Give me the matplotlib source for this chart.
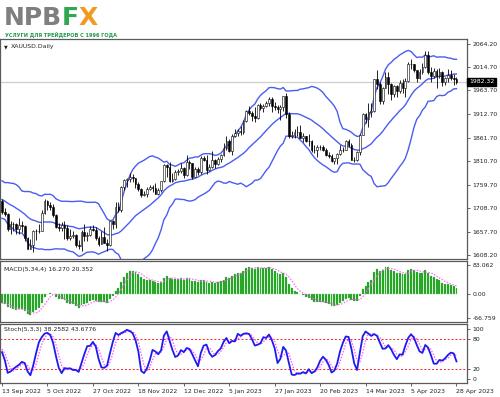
import numpy as np
import pandas as pd
import matplotlib
matplotlib.use("Agg")
import matplotlib.pyplot as plt
import matplotlib.transforms as mtransforms

plt.rcParams['font.family'] = ['DejaVu Sans']

# --- price data, XAUUSD daily, 13 Sep 2022 .. 28 Apr 2023 ---
opens = [1725, 1702, 1697, 1665, 1675, 1675, 1664, 1673, 1671, 1644, 1622, 1629, 1660, 1660,
         1661, 1699, 1725, 1716, 1712, 1695, 1668, 1666, 1673, 1666, 1644, 1650, 1652, 1629,
         1627, 1657, 1649, 1652, 1665, 1663, 1644, 1633, 1647, 1635, 1629, 1681, 1676, 1712,
         1706, 1755, 1771, 1772, 1777, 1774, 1761, 1751, 1738, 1741, 1750, 1755, 1754, 1741,
         1749, 1768, 1803, 1798, 1769, 1772, 1787, 1789, 1797, 1781, 1810, 1807, 1777, 1793,
         1788, 1817, 1814, 1792, 1798, 1814, 1805, 1815, 1824, 1839, 1855, 1833, 1865, 1872,
         1877, 1875, 1897, 1920, 1916, 1908, 1904, 1932, 1926, 1931, 1936, 1946, 1930, 1928,
         1923, 1928, 1951, 1912, 1865, 1867, 1873, 1874, 1861, 1865, 1854, 1854, 1836, 1836,
         1842, 1841, 1835, 1825, 1822, 1811, 1817, 1826, 1836, 1836, 1855, 1846, 1813, 1814,
         1830, 1868, 1913, 1903, 1918, 1919, 1989, 1978, 1940, 1970, 1993, 1977, 1956, 1973,
         1963, 1980, 1969, 1985, 2020, 2021, 2007, 1990, 2003, 2015, 2040, 2004, 1995, 2006,
         1995, 2004, 1983, 1990, 1998, 1990, 1989]
highs = [1729, 1709, 1699, 1682, 1680, 1677, 1688, 1681, 1674, 1646, 1642, 1663, 1665, 1676,
         1705, 1729, 1727, 1722, 1718, 1697, 1678, 1680, 1681, 1672, 1664, 1660, 1654, 1641,
         1662, 1675, 1658, 1670, 1674, 1668, 1650, 1659, 1669, 1642, 1682, 1684, 1722, 1722,
         1757, 1772, 1775, 1786, 1783, 1775, 1767, 1754, 1747, 1755, 1759, 1760, 1764, 1754,
         1769, 1804, 1804, 1810, 1785, 1791, 1793, 1807, 1798, 1824, 1813, 1807, 1799, 1799,
         1822, 1823, 1824, 1804, 1833, 1816, 1821, 1827, 1850, 1865, 1858, 1869, 1881, 1881,
         1886, 1901, 1922, 1930, 1920, 1928, 1935, 1937, 1935, 1942, 1949, 1949, 1938, 1932,
         1932, 1952, 1959, 1918, 1877, 1881, 1886, 1890, 1871, 1866, 1869, 1856, 1845, 1846,
         1846, 1846, 1840, 1831, 1827, 1818, 1828, 1845, 1842, 1857, 1858, 1850, 1820, 1834,
         1870, 1914, 1914, 1937, 1937, 1989, 2009, 1983, 1972, 2003, 2004, 1979, 1975, 1975,
         1986, 1988, 1990, 2025, 2032, 2022, 2009, 2010, 2023, 2048, 2048, 2015, 2013, 2010,
         2012, 2006, 1993, 2010, 2009, 2000, 1993]
lows = [1697, 1693, 1660, 1654, 1660, 1654, 1654, 1657, 1639, 1621, 1621, 1614, 1641, 1656,
        1659, 1697, 1705, 1706, 1691, 1666, 1659, 1661, 1642, 1641, 1640, 1645, 1626, 1621,
        1617, 1639, 1638, 1650, 1659, 1640, 1628, 1632, 1634, 1616, 1628, 1664, 1667, 1701,
        1701, 1749, 1756, 1765, 1766, 1754, 1747, 1733, 1735, 1734, 1748, 1745, 1739, 1738,
        1745, 1766, 1777, 1765, 1767, 1770, 1780, 1786, 1775, 1778, 1795, 1773, 1776, 1782,
        1784, 1811, 1784, 1790, 1796, 1796, 1802, 1810, 1822, 1836, 1830, 1825, 1864, 1866,
        1867, 1870, 1896, 1911, 1897, 1896, 1902, 1922, 1917, 1929, 1931, 1918, 1922, 1916,
        1900, 1920, 1904, 1861, 1860, 1861, 1866, 1860, 1853, 1852, 1844, 1831, 1829, 1819,
        1836, 1832, 1822, 1818, 1809, 1805, 1805, 1825, 1830, 1835, 1842, 1813, 1809, 1812,
        1824, 1867, 1893, 1885, 1906, 1918, 1968, 1934, 1935, 1969, 1957, 1944, 1949, 1950,
        1959, 1959, 1950, 1982, 2010, 2003, 1981, 1988, 1999, 2012, 2000, 1981, 1991, 1969,
        1990, 1974, 1975, 1982, 1986, 1975, 1977]
closes = [1702, 1697, 1665, 1675, 1675, 1664, 1673, 1671, 1644, 1622, 1629, 1660, 1660, 1661,
          1699, 1725, 1716, 1712, 1695, 1668, 1666, 1673, 1666, 1644, 1650, 1652, 1629, 1627,
          1657, 1649, 1652, 1665, 1663, 1644, 1633, 1647, 1635, 1629, 1681, 1676, 1712, 1706,
          1755, 1771, 1772, 1777, 1774, 1761, 1751, 1738, 1741, 1750, 1755, 1754, 1741, 1749,
          1768, 1803, 1798, 1769, 1772, 1787, 1789, 1797, 1781, 1810, 1807, 1777, 1793, 1788,
          1817, 1814, 1792, 1798, 1814, 1805, 1815, 1824, 1839, 1855, 1833, 1865, 1872, 1877,
          1875, 1897, 1920, 1916, 1908, 1904, 1932, 1926, 1931, 1936, 1946, 1930, 1928, 1923,
          1928, 1951, 1912, 1865, 1867, 1873, 1874, 1861, 1865, 1854, 1854, 1836, 1836, 1842,
          1841, 1835, 1825, 1822, 1811, 1817, 1826, 1836, 1836, 1855, 1846, 1813, 1814, 1830,
          1868, 1913, 1903, 1918, 1919, 1989, 1978, 1940, 1970, 1993, 1977, 1956, 1973, 1963,
          1980, 1969, 1985, 2020, 2021, 2007, 1990, 2003, 2015, 2040, 2004, 1995, 2006, 1995,
          2004, 1983, 1990, 1998, 1990, 1989, 1982.32]

# earlier history (Jul - 12 Sep 2022), only needed for the indicators
warm_close = [1811, 1764, 1739, 1740, 1742, 1733, 1725, 1735, 1710, 1703, 1709, 1711, 1696,
              1719, 1727, 1719, 1717, 1735, 1756, 1766, 1772, 1760, 1765, 1791, 1775, 1789,
              1794, 1792, 1789, 1802, 1779, 1776, 1761, 1758, 1747, 1736, 1748, 1751, 1758,
              1737, 1738, 1723, 1711, 1697, 1712, 1710, 1702, 1718, 1709, 1717, 1725]
warm_high = [1765, 1740, 1741, 1728, 1712, 1722, 1719, 1717, 1721, 1729, 1735, 1735]
warm_low = [1734, 1719, 1720, 1708, 1688, 1695, 1706, 1697, 1691, 1707, 1713, 1710]

date_labels = ['13 Sep 2022', '5 Oct 2022', '27 Oct 2022', '18 Nov 2022', '12 Dec 2022',
               '5 Jan 2023', '27 Jan 2023', '20 Feb 2023', '14 Mar 2023', '5 Apr 2023',
               '28 Apr 2023']
date_pos = [0, 16, 32, 48, 64, 80, 96, 112, 128, 144, 160]

price_ticks = [2064.20, 2014.70, 1963.70, 1912.70, 1861.70, 1810.70, 1759.70, 1708.70,
               1657.70, 1608.20]
last_price = 1982.32

n = len(closes)
nw = len(warm_close)
x = np.arange(n)

# indicators
c_all = pd.Series(warm_close + closes, dtype=float)
mid = c_all.rolling(20).mean()
sd = c_all.rolling(20).std(ddof=0)
bb_mid = mid.values[nw:]
bb_up = (mid + 2 * sd).values[nw:]
bb_lo = (mid - 2 * sd).values[nw:]

ema5 = c_all.ewm(span=5, adjust=False).mean()
ema34 = c_all.ewm(span=34, adjust=False).mean()
macd = ema5 - ema34
sig = macd.rolling(4).mean()
macd_v = macd.values[nw:]
sig_v = sig.values[nw:]

k_n = len(warm_high)
hs = pd.Series(warm_high + highs, dtype=float)
ls = pd.Series(warm_low + lows, dtype=float)
cs = pd.Series(warm_close[-k_n:] + closes, dtype=float)
ll = ls.rolling(5).min()
hh = hs.rolling(5).max()
stk = (cs - ll).rolling(3).sum() / (hh - ll).rolling(3).sum() * 100
std_ = stk.rolling(3).mean()
stk_v = stk.values[k_n:]
std_v = std_.values[k_n:]

# --- figure ---
W, H = 500, 397
fig = plt.figure(figsize=(W / 100, H / 100), dpi=100)


def box(x0, y0, x1, y1):
    return [x0 / W, 1 - y1 / H, (x1 - x0) / W, (y1 - y0) / H]


ax = fig.add_axes(box(0, 39, 467, 259))
ax2 = fig.add_axes(box(0, 261, 467, 322))
ax3 = fig.add_axes(box(0, 324, 467, 383))

xlim = (-0.7, 163.7)
band_col = '#4b5cf2'
fs = 4.4

# candles
bull = np.array(closes) >= np.array(opens)
ax.vlines(x, lows, highs, color='black', lw=0.6, zorder=3)
body_lo = np.minimum(opens, closes)
body_h = np.abs(np.array(closes) - np.array(opens))
ax.bar(x, body_h, bottom=body_lo, width=0.62,
       color=np.where(bull, 'white', 'black'), edgecolor='black', lw=0.4, zorder=4)
ax.plot(x, bb_up, color=band_col, lw=1.0, zorder=2)
ax.plot(x, bb_mid, color=band_col, lw=1.0, zorder=2)
ax.plot(x, bb_lo, color=band_col, lw=1.0, zorder=2)
ax.axhline(last_price, color='#cfcfcf', lw=0.9, zorder=1)
ax.set_xlim(*xlim)
ax.set_ylim(1599.5, 2075)
ax.set_yticks(price_ticks)
ax.set_yticklabels(['%.2f' % v for v in price_ticks])
ax.text(0.008, 0.975, '\u25bc', transform=ax.transAxes, fontsize=3.5, va='top', color='#222')
ax.text(0.024, 0.978, 'XAUUSD.Daily', transform=ax.transAxes, fontsize=fs, va='top',
        color='#222')
trans = mtransforms.blended_transform_factory(ax.transAxes, ax.transData)
ax.text(1.004, last_price, '%.2f' % last_price, transform=trans, fontsize=fs, color='white',
        va='center', ha='left',
        bbox=dict(boxstyle='square,pad=0.25', fc='black', ec='black'), zorder=10,
        clip_on=False)

# MACD
ax2.bar(x, macd_v, width=0.68, color='#1ea01e', edgecolor='#5cc85c', lw=0.2)
ax2.plot(x, sig_v, color='#ff66ff', lw=0.9, ls=(0, (1.2, 1.2)))
ax2.set_xlim(*xlim)
ax2.set_ylim(-79, 93)
ax2.set_yticks([83.062, 0, -66.759])
ax2.set_yticklabels(['83.062', '0.00', '-66.759'])
ax2.text(0.008, 0.9, 'MACD(5,34,4) 16.270 20.352', transform=ax2.transAxes, fontsize=fs,
         va='top', color='#222')

# Stochastic
ax3.axhline(80, color='#ff2020', lw=0.7, ls=(0, (2, 2)))
ax3.axhline(20, color='#ff2020', lw=0.7, ls=(0, (2, 2)))
ax3.plot(x, std_v, color='#ff55ff', lw=0.9, ls=(0, (1.2, 1.2)))
ax3.plot(x, stk_v, color='#1c1cf0', lw=1.3)
ax3.set_xlim(*xlim)
ax3.set_ylim(-7.8, 109.8)
ax3.set_yticks([100, 80, 20, 0])
ax3.set_yticklabels(['100', '80', '20', '0'])
ax3.text(0.008, 0.95, 'Stoch(5,3,3) 38.2582 43.6776', transform=ax3.transAxes, fontsize=fs,
         va='top', color='#222')
ax3.set_xticks(date_pos)
ax3.set_xticklabels(date_labels, ha='left')
ax3.tick_params(axis='x', length=2.5, pad=1.5, labelsize=fs, colors='#222', width=0.5)

for a in (ax, ax2, ax3):
    a.yaxis.tick_right()
    a.tick_params(axis='y', length=2.5, pad=1.5, labelsize=fs, colors='#222', width=0.5)
    for s in a.spines.values():
        s.set_color('#5a5a5a')
        s.set_linewidth(0.9)
for a in (ax, ax2):
    a.set_xticks([])

# logo
logo_y = 1 - 25 / H
fig.text(4 / W, logo_y, 'NPB', fontsize=18, fontweight='heavy', color='#7f7f7f',
         va='baseline')
fig.text(62 / W, logo_y, 'F', fontsize=18, fontweight='heavy', color='#2fa84f',
         va='baseline')
fig.text(79 / W, logo_y, 'X', fontsize=18, fontweight='heavy', color='#f39a1e',
         va='baseline')
fig.text(5 / W, 1 - 34.5 / H, 'УСЛУГИ ДЛЯ ТРЕЙДЕРОВ С 1996 ГОДА', fontsize=3.6,
         fontweight='bold', color='#1f9a4a', va='center')

fig.savefig('out.png', dpi=100)
